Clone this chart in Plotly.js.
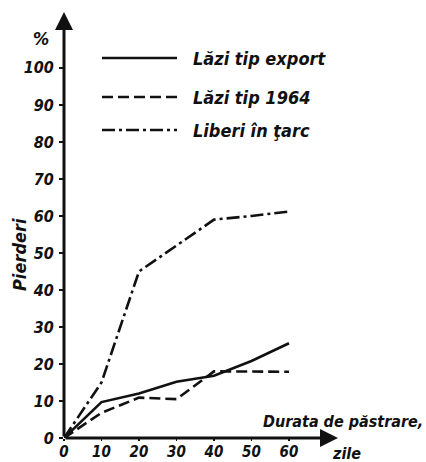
<!DOCTYPE html>
<html><head><meta charset="utf-8">
<script src="https://cdn.plot.ly/plotly-3.0.1.min.js"></script>
<style>body{margin:0;background:#fff}#c{width:426px;height:462px}</style>
</head><body><div id="c"></div>
<script>
const days = [0, 10, 20, 30, 40, 50, 60];
const export_ = [0, 9.7, 12, 15.2, 16.8, 20.8, 25.6];
const tip1964 = [0, 6.8, 10.9, 10.5, 18, 18, 17.9];
const liberi = [0, 15, 45, 52, 59, 60, 61.2];
const names = ['Lăzi tip export', 'Lăzi tip 1964', 'Liberi în ţarc'];
const yTicks = [0, 10, 20, 30, 40, 50, 60, 70, 80, 90, 100];
const xTicks = [0, 10, 20, 30, 40, 50, 60];

const FONT = 'DejaVu Sans Condensed, DejaVu Sans, sans-serif';
const tf = {family: FONT, size: 16, color: '#111', style: 'italic', weight: 'bold'};
const tfl = {family: FONT, size: 18, color: '#111', style: 'italic', weight: 'bold'};
const tfx = {family: FONT, size: 15, color: '#111', style: 'italic', weight: 'bold'};
const lw = 2.6;
const dashes = ['solid', '11px,5px', '13px,4px,3px,4px'];
const series = [export_, tip1964, liberi];

const traces = series.map((s, i) => ({
  x: days, y: s, type: 'scatter', mode: 'lines', name: names[i],
  line: {color: '#111', width: lw, dash: dashes[i]}, showlegend: false, cliponaxis: false
}));

// pixel -> paper helpers (plot area: l=64, w=274, b=24, h=426)
const px = v => (v - 64) / 274;
const py = v => (438 - v) / 426;

const legY = [58, 97, 130];
const shapes = legY.map((yy, i) => ({
  type: 'line', xref: 'paper', yref: 'paper', x0: px(102), x1: px(177), y0: py(yy), y1: py(yy),
  line: {color: '#111', width: lw, dash: dashes[i]}
}));
const annotations = legY.map((yy, i) => ({
  x: px(191), y: py(yy), xref: 'paper', yref: 'paper', text: names[i], showarrow: false,
  xanchor: 'left', yanchor: 'middle', font: tfl
}));
annotations.push(
  {x: px(41), y: py(38), xref: 'paper', yref: 'paper', text: '%', showarrow: false, xanchor: 'center', yanchor: 'middle', font: tfl},
  {x: px(19), y: py(255), xref: 'paper', yref: 'paper', text: 'Pierderi', showarrow: false, textangle: -90, xanchor: 'center', yanchor: 'middle', font: tfl},
  {x: px(425), y: py(421), xref: 'paper', yref: 'paper', text: 'Durata de păstrare,', showarrow: false, xanchor: 'right', yanchor: 'middle', font: tf},
  {x: px(346), y: py(453), xref: 'paper', yref: 'paper', text: 'zile', showarrow: false, xanchor: 'center', yanchor: 'middle', font: tf},
  {x: 0, y: 115.1, ax: 0, ay: 0, xref: 'x', yref: 'y', axref: 'x', ayref: 'y', text: '', showarrow: true,
   arrowhead: 2, arrowsize: 1.2, arrowwidth: 3, arrowcolor: '#111'},
  {x: 73.07, y: 0, ax: 0, ay: 0, xref: 'x', yref: 'y', axref: 'x', ayref: 'y', text: '', showarrow: true,
   arrowhead: 2, arrowsize: 1.2, arrowwidth: 3, arrowcolor: '#111'}
);

const layout = {
  width: 426, height: 462,
  margin: {l: 64, r: 88, t: 12, b: 24},
  paper_bgcolor: '#fff', plot_bgcolor: '#fff',
  showlegend: false,
  xaxis: {range: [0, 73.07], tickvals: xTicks, ticktext: xTicks.map(String), showgrid: false, zeroline: false,
    showline: false, ticks: 'outside', ticklen: 2, tickwidth: 1.5, tickcolor: '#111', tickfont: tfx,
    ticklabelstandoff: -2, fixedrange: true},
  yaxis: {range: [0, 115.1], tickvals: yTicks, ticktext: yTicks.map(String), showgrid: false, zeroline: false,
    showline: false, ticks: 'outside', ticklen: 4, tickwidth: 1.5, tickcolor: '#111', tickfont: tf,
    ticklabelstandoff: 2, fixedrange: true},
  shapes: shapes, annotations: annotations
};
Plotly.newPlot('c', traces, layout, {staticPlot: true});
</script></body></html>
